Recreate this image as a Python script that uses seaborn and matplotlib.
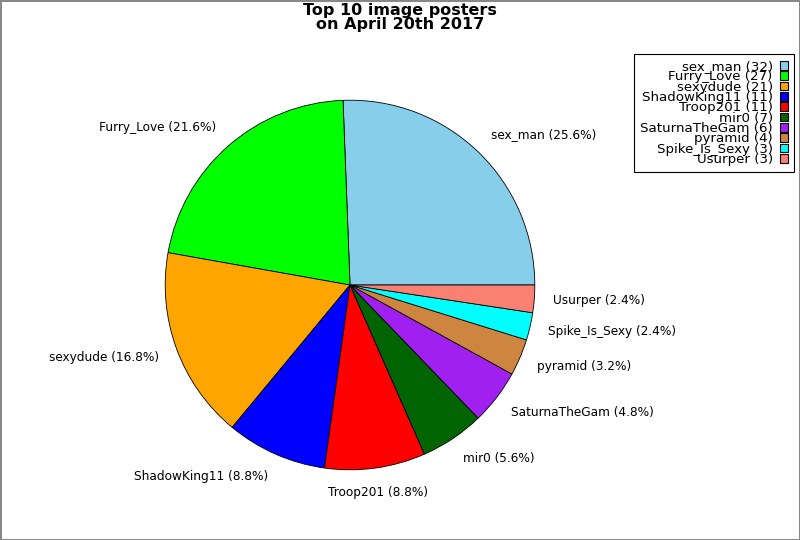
import matplotlib
matplotlib.use("Agg")
import matplotlib.pyplot as plt
import seaborn as sns
from matplotlib.patches import Patch

names = ["sex_man", "Furry_Love", "sexydude", "ShadowKing11", "Troop201",
         "mir0", "SaturnaTheGam", "pyramid", "Spike_Is_Sexy", "Usurper"]
counts = [32, 27, 21, 11, 11, 7, 6, 4, 3, 3]
colors = ["#87ceeb", "#00ff00", "#ffa500", "#0000ff", "#ff0000",
          "#006400", "#a020f0", "#cd853f", "#00ffff", "#fa8072"]

sns.set_style("white")
plt.rcParams['font.family'] = ['DejaVu Sans']
plt.rcParams['text.color'] = 'black'

fig = plt.figure(figsize=(8, 5.4), dpi=100)
fig.patch.set_edgecolor("#888888")
fig.patch.set_linewidth(2)

total = sum(counts)
labels = [f"{n} ({c / total * 100:.1f}%)" for n, c in zip(names, counts)]

ax = fig.add_axes([119 / 800, 24 / 540, 462 / 800, 462 / 540])
wedges, texts = ax.pie(counts, labels=labels, colors=colors, startangle=0,
                       counterclock=True, labeldistance=1.1,
                       wedgeprops=dict(edgecolor="black", linewidth=0.6),
                       textprops=dict(fontsize=8.7, color="black"))
for t in texts:
    x, y = t.get_position()
    t.set_position((x, y * 1.03))
    if abs(x) < 0.2:
        t.set_ha("center")

fig.text(0.5, 0.995, "Top 10 image posters\non April 20th 2017", ha="center", va="top",
         fontsize=11.5, fontweight="bold", linespacing=0.95, color="black")

handles = [Patch(facecolor=c, edgecolor="black", linewidth=0.8) for c in colors]
leg_labels = [f"{n} ({c})" for n, c in zip(names, counts)]
leg = fig.legend(handles, leg_labels, loc="upper right", bbox_to_anchor=(794 / 800, 1 - 54 / 540),
                 fontsize=9.6, markerfirst=False, labelspacing=-0.2, handlelength=0.6,
                 handleheight=0.6, handletextpad=0.55, borderpad=0.45, borderaxespad=0,
                 fancybox=False, framealpha=1, edgecolor="black", labelcolor="black")
leg.get_frame().set_linewidth(0.8)
for t in leg.get_texts():
    t.set_ha("right")

fig.savefig("out.png", dpi=100, edgecolor=fig.get_edgecolor())
